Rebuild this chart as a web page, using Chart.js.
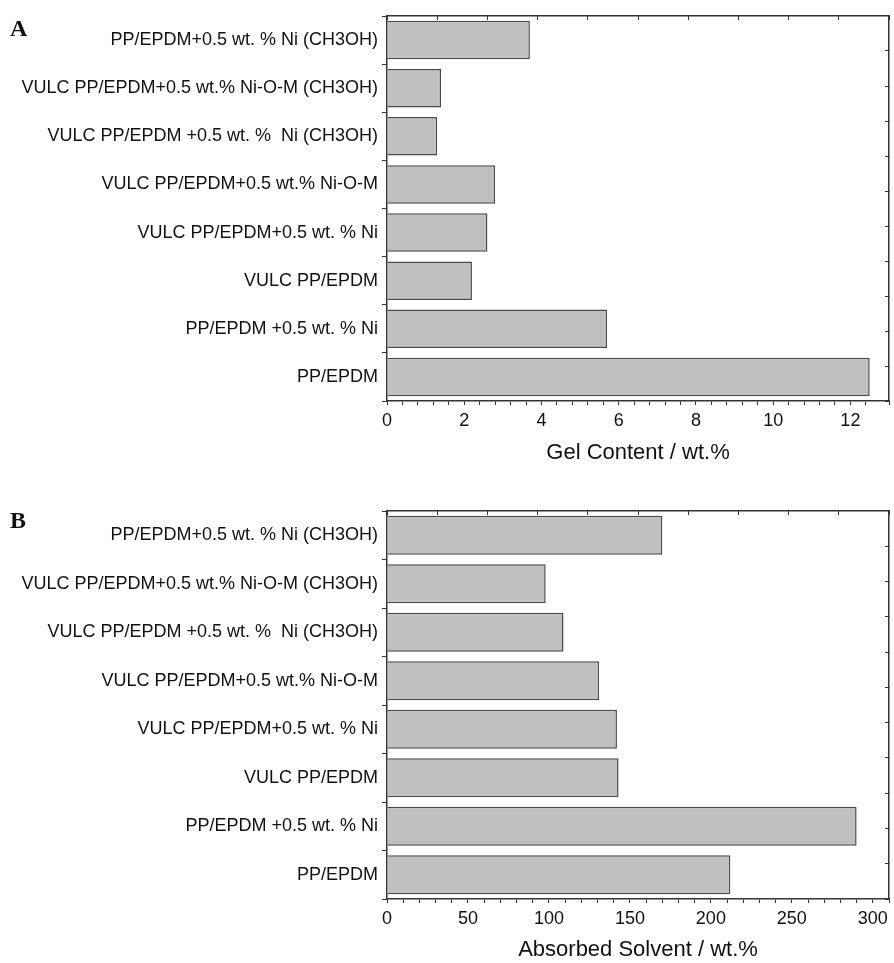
<!DOCTYPE html>
<html>
<head>
<meta charset="utf-8">
<script src="https://cdn.jsdelivr.net/npm/chart.js@4.4.0/dist/chart.umd.min.js"></script>
<style>
    html, body { margin: 0; padding: 0; background: #fff; overflow: hidden; }
    .panel { position: absolute; left: 0; width: 894px; }
    .tag { position: absolute; left: 10px; font: bold 24px 'Liberation Serif', 'Times New Roman', serif; line-height: 24px; color: #111; }
</style>
</head>
<body>
<div class="panel" style="top:0;height:478px"><canvas id="chartA" width="894" height="478"></canvas></div>
<div class="panel" style="top:478px;height:485px"><canvas id="chartB" width="894" height="485"></canvas></div>
<div class="tag" style="top:16px">A</div>
<div class="tag" style="top:508px">B</div>

<script>
// Samples, top to bottom as in the figure
const samples = [
    'PP/EPDM+0.5 wt. % Ni (CH3OH)',
    'VULC PP/EPDM+0.5 wt.% Ni-O-M (CH3OH)',
    'VULC PP/EPDM +0.5 wt. %  Ni (CH3OH)',
    'VULC PP/EPDM+0.5 wt.% Ni-O-M',
    'VULC PP/EPDM+0.5 wt. % Ni',
    'VULC PP/EPDM',
    'PP/EPDM +0.5 wt. % Ni',
    'PP/EPDM'
];

// Panel A: gel content (wt.%)
const gelContent = [3.7, 1.4, 1.3, 2.8, 2.6, 2.2, 5.7, 12.5];
// Panel B: absorbed solvent (wt.%)
const absorbedSolvent = [170, 98, 109, 131, 142, 143, 290, 212];

const FONT = "'Liberation Sans', Arial, Helvetica, sans-serif";
const FRAME = '#333';

/**
 * Builds one horizontal bar panel
 */
function makePanel(canvasId, values, opts) {
    const ctx = document.getElementById(canvasId).getContext('2d');
    return new Chart(ctx, {
        type: 'bar',
        data: {
            labels: samples,
            datasets: [{
                data: values,
                backgroundColor: '#c0c0c0',
                borderColor: '#4a4a4a',
                borderWidth: 1.5,
                barPercentage: 0.8,
                categoryPercentage: 1.0
            }]
        },
        options: {
            indexAxis: 'y',
            responsive: false,
            animation: false,
            layout: { padding: 0 },
            plugins: {
                legend: { display: false },
                tooltip: { enabled: false }
            },
            scales: {
                x: {
                    type: 'linear',
                    position: 'bottom',
                    min: 0,
                    max: opts.max,
                    border: { display: true, color: FRAME, width: 1.5 },
                    grid: { drawOnChartArea: false, drawTicks: true, tickLength: 4, color: FRAME, tickColor: FRAME },
                    ticks: {
                        stepSize: opts.minor,
                        autoSkip: false,
                        maxRotation: 0,
                        padding: 5,
                        color: '#111',
                        font: { family: FONT, size: 18 },
                        callback: (v) => Math.abs(v - Math.round(v / opts.major) * opts.major) < 1e-6 ? v : ''
                    },
                    title: {
                        display: true,
                        text: opts.title,
                        color: '#111',
                        font: { family: FONT, size: 22 },
                        padding: { top: 0, bottom: opts.titlePad }
                    },
                    afterFit: (scale) => { scale.height = opts.bottomH; }
                },
                x2: {
                    type: 'linear',
                    position: 'top',
                    min: 0,
                    max: 10,
                    border: { display: true, color: FRAME, width: 1.5 },
                    grid: { drawOnChartArea: false, drawTicks: true, tickLength: -4, tickColor: FRAME },
                    ticks: { display: false, stepSize: 1 },
                    afterFit: (scale) => { scale.height = opts.topH; }
                },
                y: {
                    type: 'category',
                    position: 'left',
                    border: { display: true, color: FRAME, width: 1.5 },
                    grid: { drawOnChartArea: false, drawTicks: true, tickLength: 5, tickColor: FRAME },
                    ticks: {
                        padding: 4,
                        color: '#111',
                        font: { family: FONT, size: 18 }
                    },
                    afterFit: (scale) => { scale.width = 387; }
                },
                y2: {
                    type: 'linear',
                    position: 'right',
                    min: 0,
                    max: 10,
                    border: { display: true, color: FRAME, width: 1.5 },
                    grid: { drawOnChartArea: false, drawTicks: true, tickLength: -4, tickColor: FRAME },
                    ticks: { display: false, stepSize: 1 },
                    afterFit: (scale) => { scale.width = 3; }
                }
            }
        }
    });
}

makePanel('chartA', gelContent, {
    max: 13, minor: 0.4, major: 2,
    title: 'Gel Content / wt.%',
    titlePad: 12, topH: 16, bottomH: 77
});

makePanel('chartB', absorbedSolvent, {
    max: 310, minor: 10, major: 50,
    title: 'Absorbed Solvent / wt.%',
    titlePad: 0, topH: 33, bottomH: 64
});
</script>
</body>
</html>
